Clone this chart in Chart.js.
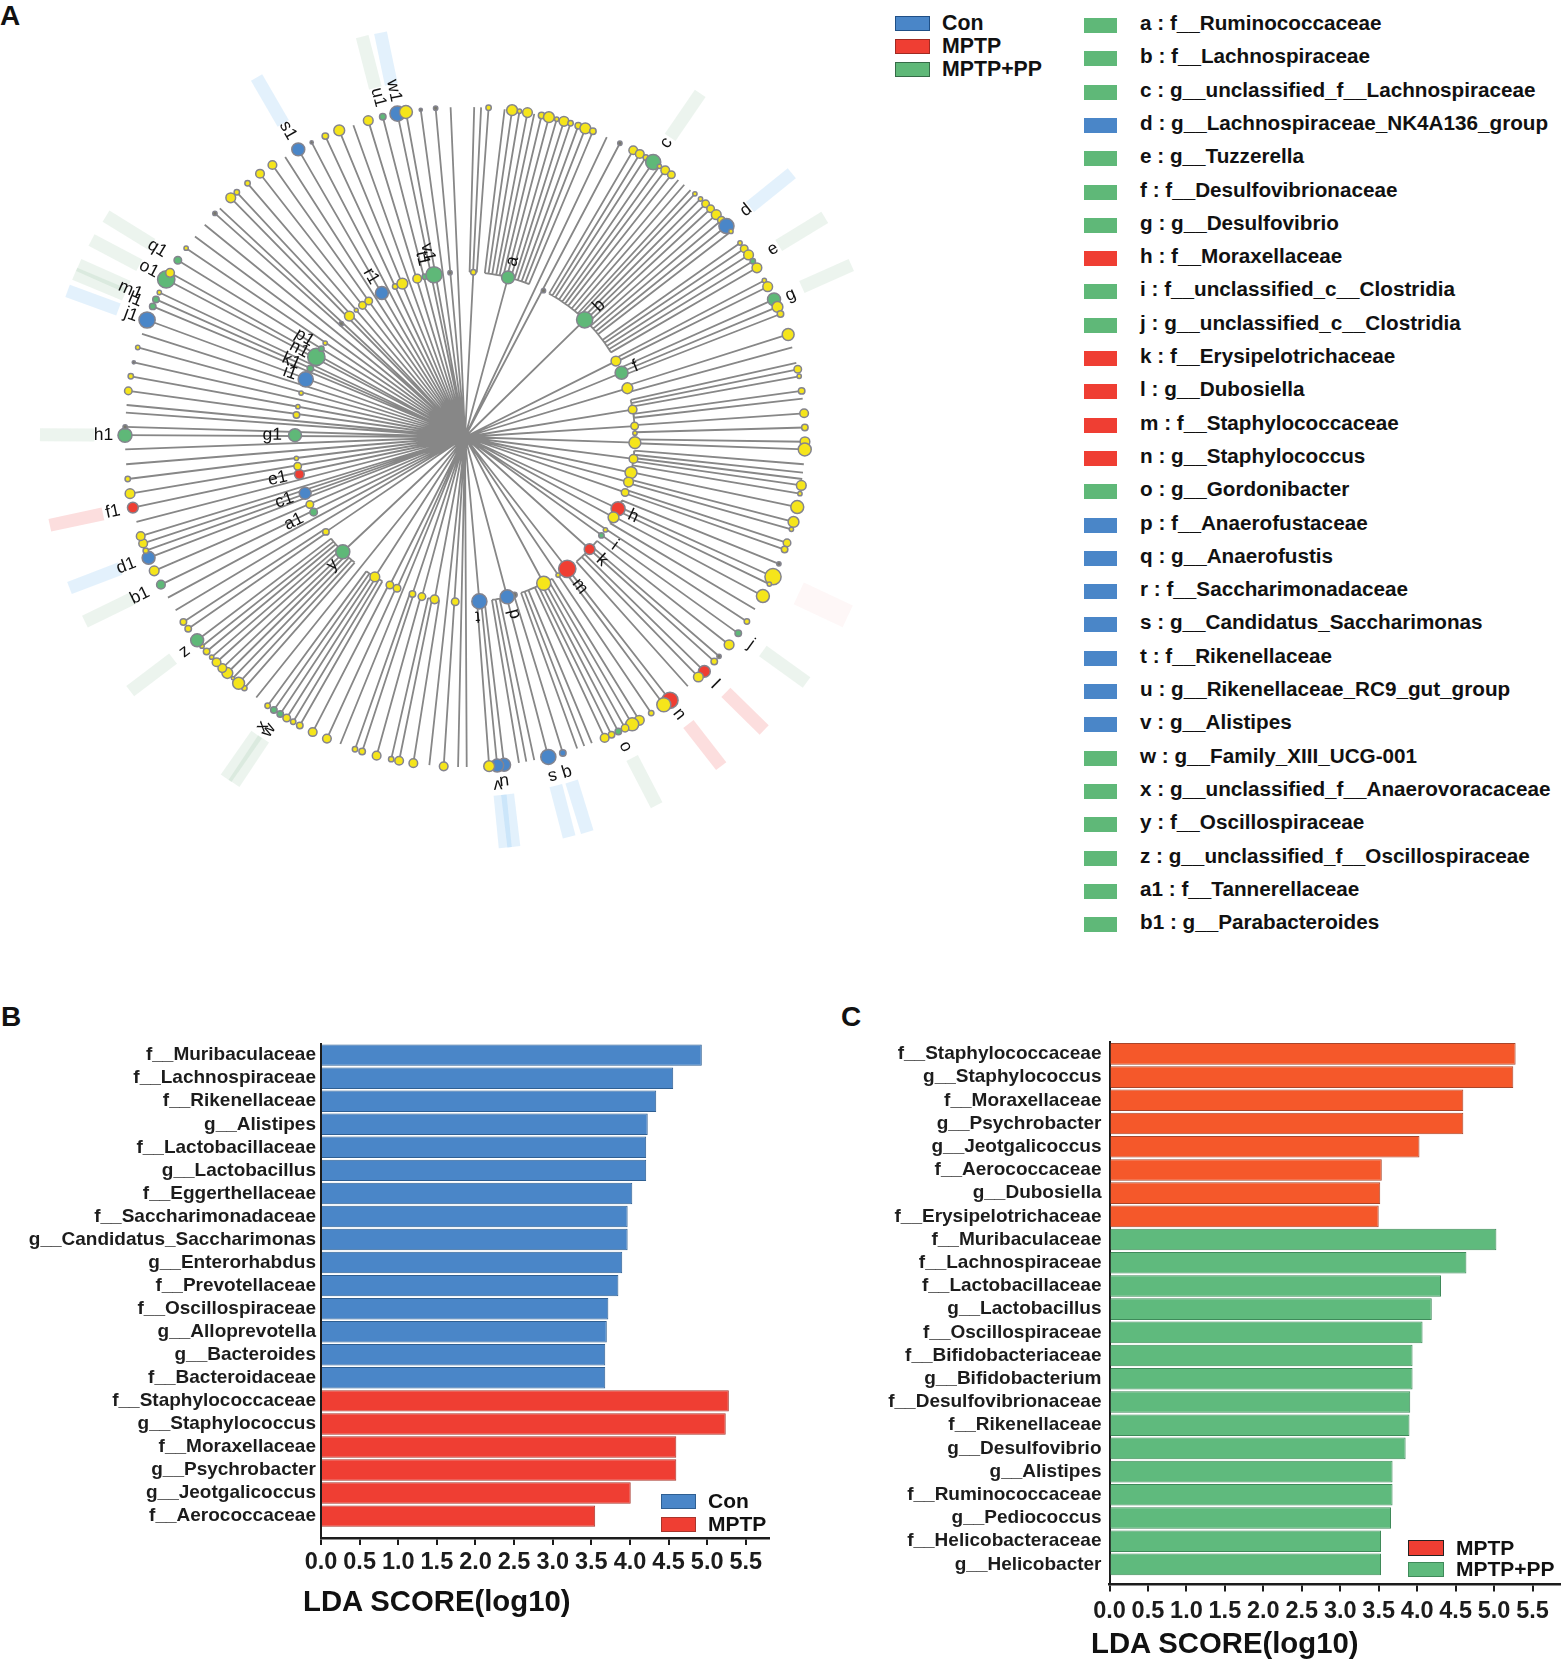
<!DOCTYPE html>
<html>
<head>
<meta charset="utf-8">
<title>LEfSe cladogram and LDA scores</title>
<script src="https://cdn.jsdelivr.net/npm/chart.js@4"></script>
<style>
    html, body { margin: 0; padding: 0; background: #fff; }
    body { position: relative; width: 1561px; height: 1660px; overflow: hidden; font-family: "Liberation Sans", Arial, sans-serif; color: #111; }
    canvas { position: absolute; }
    .panel { position: absolute; font-weight: bold; font-size: 28px; line-height: 28px; }
    .axis-title { position: absolute; font-weight: bold; font-size: 29.3px; line-height: 34px; white-space: nowrap; }
    .swatch { position: absolute; box-sizing: border-box; }
    .key { position: absolute; white-space: nowrap; font-weight: bold; line-height: 24px; }
</style>
</head>
<body>
<div class="panel" style="left:0;top:2px">A</div>
<div class="panel" style="left:1px;top:1003px">B</div>
<div class="panel" style="left:841px;top:1003px">C</div>
<canvas id="cladogram" width="880" height="880" style="left:0;top:0"></canvas>
<canvas id="chartB" width="790" height="630" style="left:0;top:1030px"></canvas>
<canvas id="chartC" width="731" height="630" style="left:830px;top:1030px"></canvas>
<div class="axis-title" style="left:303px;top:1584px">LDA SCORE(log10)</div>
<div class="axis-title" style="left:1091px;top:1626px">LDA SCORE(log10)</div>
<div id="keys"></div>
<script>
// groups: 0 not enriched, 1 Con, 2 MPTP, 3 MPTP+PP, 4 unlabelled small grey
const groupColors = ['#f5e51b', '#4a86c8', '#ef3e33', '#5fb878', '#77776a'];
const beamColors = [null, 'rgba(90,170,235,0.17)', 'rgba(240,90,90,0.2)', 'rgba(95,165,115,0.12)', 'rgba(240,90,90,0.05)'];

// outer ring: bearing in degrees, abundance (0 = bare branch), group
const leafAngles = [
    1.6, 2.8, 4.1, 6.9, 8.2, 9.5, 10.9, 12.1, 13.4, 14.7, 16.1, 17.4, 18.6, 20, 21.3, 22.7, 25.3, 27.8,
    30.4, 31.7, 32.9, 34.4, 35.7, 36.9, 38.2, 39.7, 41, 42.4, 43.4, 44.7, 45.9, 47.1, 48.5, 49.8, 51.1, 52.3,
    54.8, 56, 57.3, 58.6, 59.9, 62.4, 63.6, 66, 67.4, 68.7, 72.4, 74.7, 77.4, 78.5, 79.7, 82.2, 83.5, 86, 88.4,
    90.8, 92.1, 94.6, 96, 97.1, 98.2, 99.6, 101.9, 104.5, 105.8, 108.2, 109.4, 112, 114.4, 115.8, 118.1, 120.7,
    123.2, 125.7, 128.2, 130.8, 132, 134.4, 135.8, 138.2, 142.1, 143.4, 146, 148.4, 149.8, 151.2, 152.5, 153.8,
    155.1, 157.5, 158.9, 160.2, 162.8, 165.4, 167.9, 169.3, 170.6, 173.2, 174.4, 175.8, 179.7, 181.2, 183.7, 186.2,
    189, 191.5, 192.9, 195.5, 198.1, 199.4, 202.1, 204.6, 207.3, 209.8, 211.1, 212.4, 213.7, 215, 216.3, 218.7,
    221.3, 222.6, 223.9, 225.2, 226.4, 227.8, 229, 230.3, 231.5, 232.8, 235.3, 236.7, 239.1, 241.6, 244.1, 246.7,
    249.1, 250.4, 251.7, 253, 255.5, 258, 260.4, 262.9, 265.4, 267.9, 270.3, 271.7, 274.1, 275.4, 277.8, 280.3,
    282.7, 285.3, 287.7, 290.2, 292.7, 294, 295.3, 297.8, 299.1, 301.6, 304.1, 306.6, 309.2, 311.8, 313, 315.6,
    317, 319.4, 322.1, 324.7, 327.3, 329.9, 332.5, 335.1, 337.7, 340.3, 343, 345.6, 348.2, 349.7, 352.3, 354.9, 357.5
];
const leafAbundance = [
    0, 0, 2.5, 0, 5, 2, 4.5, 0, 3, 5, 2, 4.5, 2.5, 3, 5, 3, 0, 2,
    4, 4, 2.5, 7, 2, 4, 3.5, 0, 0, 0, 2, 2, 3.5, 3.5, 4.5, 3.5, 7, 2,
    2, 3.5, 4.5, 2.5, 4.5, 2, 4.5, 6, 5, 3, 5.5, 0, 0, 3.5, 2, 3, 0, 4, 3,
    4.5, 6, 0, 0, 0, 4.5, 2, 6, 5, 2, 3.5, 3, 2, 7.5, 2, 6, 0,
    2.5, 3, 4.5, 2, 3, 5.5, 4.5, 0, 7.5, 6.5, 2.5, 4.5, 6, 3.5, 3, 3,
    4, 0, 0, 0, 3, 7, 0, 0, 0, 6, 6, 5, 0, 0, 4, 0,
    4, 4, 2.5, 4, 3, 2.5, 0, 4, 4, 3, 2.5, 3.5, 3, 3, 2.5, 0,
    2.5, 5.5, 1.5, 5, 4, 4, 2, 3, 2, 6, 3, 3, 0, 0, 4, 4.5,
    6, 2.5, 4, 4, 0, 5, 4.5, 2.5, 0, 0, 6.5, 2, 0, 0, 3.5, 2.5,
    1.5, 2, 0, 7.5, 3, 3, 2, 8, 4, 3.5, 2, 0, 0, 2, 0, 4.5,
    2.5, 2.5, 4, 4, 0, 6, 1.5, 3, 5, 0, 4.5, 3, 7, 6, 1.5, 2, 0
];
const leafGroups = [
    0, 0, 0, 0, 0, 0, 0, 0, 0, 0, 0, 0, 0, 0, 0, 0, 0, 4,
    0, 0, 0, 3, 0, 0, 0, 0, 0, 0, 0, 0, 0, 0, 0, 0, 1, 0,
    0, 0, 0, 3, 0, 0, 0, 3, 0, 0, 0, 0, 0, 0, 0, 0, 0, 0, 0,
    0, 0, 0, 0, 0, 0, 0, 0, 0, 0, 0, 0, 4, 0, 0, 0, 0,
    0, 3, 0, 4, 0, 2, 0, 0, 2, 0, 0, 0, 0, 0, 3, 0,
    0, 0, 0, 0, 1, 1, 0, 0, 0, 1, 1, 0, 0, 0, 0, 0,
    0, 0, 0, 0, 0, 0, 0, 0, 0, 0, 0, 0, 3, 3, 0, 0,
    0, 0, 0, 0, 0, 0, 0, 0, 0, 3, 0, 0, 0, 0, 3, 0,
    1, 0, 0, 0, 0, 2, 0, 0, 0, 0, 3, 4, 0, 0, 0, 0,
    4, 0, 0, 1, 3, 3, 0, 3, 0, 3, 0, 0, 0, 4, 0, 0,
    0, 0, 0, 0, 0, 1, 4, 0, 0, 0, 0, 3, 1, 0, 4, 4, 0
];

// inner ring nodes
const innerAngles = [
    2.9, 15.1, 28.2, 45.6, 63.3, 67.7, 73.3, 80.7, 86.3, 88.7, 91.9, 97.4, 102.1, 105.4, 109.1, 115.1, 118.4, 123.5,
    125.8, 132, 146, 142.2, 151.7, 162.6, 165.2, 175, 183.4, 190.6, 195.1, 198.5, 204.2, 206.9, 212.8, 226.8, 235.7,
    243.6, 246.5, 250.6, 257.3, 260.1, 262.8, 270.6, 277.4, 280.3, 285, 289.9, 293.9, 298.3, 301.6, 303.9, 312.5,
    316.3, 319.4, 322.1, 324.7, 330, 335.1, 337.8, 343.2, 345.9, 349.2, 354.8
];
const innerAbundance = [
    2.5, 6, 2, 7.5, 4.5, 6, 5, 4, 3.5, 2, 5.5, 4, 5.5, 4.5, 3.5, 6.5, 5, 2,
    2.5, 5, 2, 8, 6.5, 2.5, 6.5, 7, 3.5, 4, 3.5, 3, 3.5, 3.5, 4.5, 6.5, 3,
    3.5, 3.5, 5.5, 4.5, 3.5, 2, 6, 3, 2, 2, 7, 3, 8, 2.5, 2, 2,
    4.5, 1.8, 3.5, 3.5, 6, 2.5, 5, 4, 2.5, 7.5, 2
];
const innerGroups = [
    0, 3, 4, 3, 0, 3, 0, 0, 0, 0, 0, 0, 0, 0, 0, 2, 0, 0,
    3, 2, 0, 2, 0, 4, 1, 1, 0, 0, 0, 0, 0, 0, 0, 3, 0,
    3, 0, 1, 2, 0, 0, 3, 0, 0, 0, 1, 3, 3, 3, 0, 4,
    0, 0, 0, 0, 1, 0, 0, 0, 3, 3, 4
];

// sectors whose leaves hang off an arc on the inner ring, fed by one branch from the centre
const fanNodes = [2.9, 15.1, 45.6, 63.3, 67.7, 73.3, 80.7, 86.3, 91.9, 97.4, 102.1, 105.4, 109.1, 115.1, 118.4, 132, 142.2, 151.7, 165.2, 175, 190.6, 195.1, 198.5, 204.2, 206.9, 212.8, 226.8, 235.7];
const fanStarts = [1.6, 6.9, 30.4, 62.4, 66, 72.4, 77.4, 88.4, 90.8, 94.6, 98.2, 104.5, 108.2, 112, 118.1, 128.2, 142.1, 148.4, 162.8, 173.2, 189, 195.5, 198.1, 204.6, 207.3, 209.8, 221.3, 235.3];
const fanEnds = [4.1, 22.7, 59.9, 63.6, 68.7, 74.7, 86, 88.4, 92.1, 97.1, 101.9, 105.8, 109.4, 115.8, 120.7, 138.2, 143.4, 160.2, 170.6, 175.8, 192.9, 195.5, 199.4, 204.6, 207.3, 216.3, 232.8, 236.7];

// pale bands behind the marked clades
const beamAngles = [34.4, 51.1, 58.6, 66, 115.1, 125.7, 134.4, 142.1, 152.5, 162.8, 165.4, 173.2, 174.4, 213.7, 215, 232.8, 244.1, 249.1, 258, 270.3, 290.2, 292.7, 294, 297.8, 301.6, 329.9, 345.6, 348.2];
const beamGroups = [3, 1, 3, 3, 4, 3, 2, 2, 3, 1, 1, 1, 1, 3, 3, 3, 3, 1, 2, 3, 1, 3, 3, 3, 3, 1, 3, 1];

const cladeNames = ['a', 'b', 'c', 'd', 'e', 'f', 'g', 'h', 'i', 'j', 'k', 'l', 'm', 'n', 'o', 'p', 'q', 's', 't', 'u', 'v', 'w', 'x', 'y', 'z', 'a1', 'b1', 'c1', 'd1', 'e1', 'f1', 'g1', 'h1', 'i1', 'j1', 'k1', 'l1', 'm1', 'n1', 'o1', 'p1', 'q1', 'r1', 's1', 't1', 'u1', 'v1', 'w1'];
const cladeAngles = [15.1, 45.6, 34.4, 51.1, 58.6, 67.5, 66.4, 115.2, 125.9, 125.9, 132, 134.7, 142.4, 142.3, 152.6, 164.4, 163.1, 165.5, 176, 173.5, 174.6, 213.8, 215, 226.1, 232.6, 243.7, 244, 250.7, 249.2, 257.5, 258, 270.6, 270.3, 290.1, 290.1, 293.6, 292.6, 293.7, 297.9, 298, 301.8, 301.5, 329.7, 330, 346.6, 345.7, 348.6, 348.4];
const cladeRadii = [0.55, 0.56, 1.07, 1.075, 1.07, 0.545, 1.05, 0.55, 0.55, 1.05, 0.55, 1.05, 0.565, 1.05, 1.05, 0.555, 1.06, 1.06, 0.545, 1.05, 1.06, 1.06, 1.06, 0.55, 1.05, 0.565, 1.07, 0.565, 1.07, 0.565, 1.06, 0.567, 1.063, 0.55, 1.05, 0.56, 1.055, 1.08, 0.555, 1.06, 0.56, 1.07, 0.56, 1.065, 0.555, 1.06, 0.57, 1.07];
const flippedNames = ['q', 's', 't', 'u', 'v'];

const taxaLetters = ['a', 'b', 'c', 'd', 'e', 'f', 'g', 'h', 'i', 'j', 'k', 'l', 'm', 'n', 'o', 'p', 'q', 'r', 's', 't', 'u', 'v', 'w', 'x', 'y', 'z', 'a1', 'b1'];
const taxaNames = ['f__Ruminococcaceae', 'f__Lachnospiraceae', 'g__unclassified_f__Lachnospiraceae', 'g__Lachnospiraceae_NK4A136_group', 'g__Tuzzerella', 'f__Desulfovibrionaceae', 'g__Desulfovibrio', 'f__Moraxellaceae', 'f__unclassified_c__Clostridia', 'g__unclassified_c__Clostridia', 'f__Erysipelotrichaceae', 'g__Dubosiella', 'f__Staphylococcaceae', 'g__Staphylococcus', 'g__Gordonibacter', 'f__Anaerofustaceae', 'g__Anaerofustis', 'f__Saccharimonadaceae', 'g__Candidatus_Saccharimonas', 'f__Rikenellaceae', 'g__Rikenellaceae_RC9_gut_group', 'g__Alistipes', 'g__Family_XIII_UCG-001', 'g__unclassified_f__Anaerovoracaceae', 'f__Oscillospiraceae', 'g__unclassified_f__Oscillospiraceae', 'f__Tannerellaceae', 'g__Parabacteroides'];
const taxaGroups = [3, 3, 3, 1, 3, 3, 3, 2, 3, 3, 2, 2, 2, 2, 3, 1, 1, 1, 1, 1, 1, 1, 3, 3, 3, 3, 3, 3];

// panel B
const conNames = ['f__Muribaculaceae', 'f__Lachnospiraceae', 'f__Rikenellaceae', 'g__Alistipes', 'f__Lactobacillaceae', 'g__Lactobacillus', 'f__Eggerthellaceae', 'f__Saccharimonadaceae', 'g__Candidatus_Saccharimonas', 'g__Enterorhabdus', 'f__Prevotellaceae', 'f__Oscillospiraceae', 'g__Alloprevotella', 'g__Bacteroides', 'f__Bacteroidaceae'];
const conScores = [4.93, 4.56, 4.34, 4.23, 4.21, 4.21, 4.03, 3.97, 3.97, 3.90, 3.85, 3.72, 3.70, 3.68, 3.68];
const mptpNamesB = ['f__Staphylococcaceae', 'g__Staphylococcus', 'f__Moraxellaceae', 'g__Psychrobacter', 'g__Jeotgalicoccus', 'f__Aerococcaceae'];
const mptpScoresB = [5.28, 5.24, 4.60, 4.60, 4.01, 3.55];

// panel C
const mptpNamesC = ['f__Staphylococcaceae', 'g__Staphylococcus', 'f__Moraxellaceae', 'g__Psychrobacter', 'g__Jeotgalicoccus', 'f__Aerococcaceae', 'g__Dubosiella', 'f__Erysipelotrichaceae'];
const mptpScoresC = [5.28, 5.25, 4.60, 4.60, 4.03, 3.54, 3.52, 3.50];
const ppNames = ['f__Muribaculaceae', 'f__Lachnospiraceae', 'f__Lactobacillaceae', 'g__Lactobacillus', 'f__Oscillospiraceae', 'f__Bifidobacteriaceae', 'g__Bifidobacterium', 'f__Desulfovibrionaceae', 'f__Rikenellaceae', 'g__Desulfovibrio', 'g__Alistipes', 'f__Ruminococcaceae', 'g__Pediococcus', 'f__Helicobacteraceae', 'g__Helicobacter'];
const ppScores = [5.03, 4.64, 4.31, 4.19, 4.07, 3.94, 3.94, 3.91, 3.90, 3.85, 3.68, 3.68, 3.66, 3.53, 3.53];

const xTicks = [0, 0.5, 1, 1.5, 2, 2.5, 3, 3.5, 4, 4.5, 5, 5.5];

Chart.defaults.font.family = '"Liberation Sans", Arial, sans-serif';
Chart.defaults.animation = false;
Chart.defaults.responsive = false;

const LEAF_DEPTH = 1, FAMILY_DEPTH = 0.5;
// the ring is a little wider than tall, so the bearing is kept true on screen
const RING_ASPECT = 340 / 330;
const polar = (angle, depth) => {
    const t = angle * Math.PI / 180;
    const a = Math.sin(t), b = Math.cos(t) * RING_ASPECT;
    const n = Math.hypot(a, b);
    return { x: depth * a / n, y: depth * b / n };
};
const GAP = { x: NaN, y: NaN };

// Branches
const branches = [];
const inFan = a => fanStarts.some((s, i) => a >= s && a <= fanEnds[i]);
leafAngles.forEach(a => {
    branches.push(polar(a, inFan(a) ? FAMILY_DEPTH : 0), polar(a, LEAF_DEPTH), GAP);
});
fanNodes.forEach((node, i) => {
    branches.push(polar(node, 0), polar(node, FAMILY_DEPTH), GAP);
    const stops = leafAngles.filter(a => a >= fanStarts[i] && a <= fanEnds[i]).concat(node).sort((a, b) => a - b);
    stops.forEach(a => branches.push(polar(a, FAMILY_DEPTH)));
    branches.push(GAP);
});
// inner nodes without a fan still sit on a branch reaching them
innerAngles.filter(a => !fanNodes.includes(a)).forEach(a => {
    if (!leafAngles.some(l => Math.abs(l - a) < 1.3)) branches.push(polar(0, 0), polar(a, FAMILY_DEPTH), GAP);
});

const nodes = (angles, abundance, groups, depth) => angles
    .map((a, i) => ({ ...polar(a, depth), size: abundance[i], group: groups[i] }))
    .filter(p => p.size > 0);

const nodeDataset = (data) => ({
    data,
    order: 1,
    showLine: false,
    pointRadius: c => c.raw.size * 1.08,
    pointHoverRadius: c => c.raw.size * 1.08,
    pointBackgroundColor: c => groupColors[c.raw.group],
    pointBorderColor: '#84848e',
    pointBorderWidth: 1.5
});

const cladeLabelPlugin = {
    id: 'cladeLabels',
    afterDatasetsDraw(chart) {
        const { ctx, scales } = chart;
        ctx.save();
        ctx.fillStyle = '#111';
        ctx.font = '17.5px "Liberation Sans", Arial, sans-serif';
        ctx.textAlign = 'center';
        ctx.textBaseline = 'middle';
        cladeNames.forEach((name, i) => {
            const a = cladeAngles[i];
            const p = polar(a, cladeRadii[i]);
            const turn = flippedNames.includes(name) ? a : (a < 180 ? a - 90 : a - 270);
            ctx.save();
            ctx.translate(scales.x.getPixelForValue(p.x), scales.y.getPixelForValue(p.y));
            ctx.rotate(turn * Math.PI / 180);
            ctx.fillText(name, 0, 0);
            ctx.restore();
        });
        ctx.restore();
    }
};

new Chart(document.getElementById('cladogram'), {
    type: 'scatter',
    plugins: [cladeLabelPlugin],
    data: {
        datasets: [
            nodeDataset(nodes(leafAngles, leafAbundance, leafGroups, LEAF_DEPTH)),
            nodeDataset(nodes(innerAngles, innerAbundance, innerGroups, FAMILY_DEPTH)),
            {
                data: branches,
                order: 2,
                showLine: true,
                spanGaps: false,
                pointRadius: 0,
                borderColor: '#878787',
                borderWidth: 1.8
            },
            ...beamAngles.map((a, i) => ({
                data: [polar(a, 1.09), polar(a, 1.25)],
                order: 3,
                showLine: true,
                pointRadius: 0,
                borderColor: beamColors[beamGroups[i]],
                borderWidth: beamGroups[i] === 4 ? 24 : 13,
                borderCapStyle: 'butt'
            }))
        ]
    },
    options: {
        events: [],
        layout: { padding: 0, autoPadding: false },
        plugins: { legend: { display: false }, tooltip: { enabled: false } },
        scales: {
            x: { display: false, bounds: 'data', min: -1.3676, max: 1.2206 },
            y: { display: false, bounds: 'data', min: -1.3424, max: 1.3242 }
        }
    }
});

// Bars
function lda(canvasId, first, second, view) {
    const names = first.names.concat(second.names);
    const series = (set, start) => ({
        label: set.label,
        data: set.scores.map((v, i) => ({ x: v, y: i + start })),
        grouped: false,
        backgroundColor: set.color,
        borderColor: set.edge,
        borderWidth: 1,
        barPercentage: 0.93,
        categoryPercentage: 1
    });
    new Chart(document.getElementById(canvasId), {
        type: 'bar',
        data: { labels: names, datasets: [series(first, 0), series(second, first.names.length)] },
        options: {
            indexAxis: 'y',
            events: [],
            layout: { padding: { top: view.top, right: view.right }, autoPadding: false },
            plugins: { legend: { display: false }, tooltip: { enabled: false } },
            scales: {
                x: {
                    type: 'linear',
                    bounds: 'data',
                    min: 0,
                    max: view.xMax,
                    afterBuildTicks: s => { s.ticks = xTicks.map(value => ({ value })); },
                    afterFit: s => { s.height = view.axisHeight; s.paddingLeft = 0; s.paddingRight = 0; },
                    border: { color: '#1c1c1c', width: 2.5 },
                    grid: { drawOnChartArea: false, color: '#1c1c1c', lineWidth: 2, tickLength: 7 },
                    ticks: {
                        autoSkip: false,
                        maxRotation: 0,
                        padding: view.tickPad,
                        color: '#1c1c1c',
                        font: { size: 23.5, weight: 'bold' },
                        callback: v => v.toFixed(1)
                    }
                },
                y: {
                    type: 'linear',
                    bounds: 'data',
                    offset: false,
                    reverse: true,
                    min: -0.5,
                    max: view.yMax,
                    afterBuildTicks: s => { s.ticks = names.map((_, value) => ({ value })); },
                    afterFit: s => { s.width = view.axisWidth; s.paddingTop = 0; s.paddingBottom = 0; },
                    border: { color: '#1c1c1c', width: 2 },
                    grid: { display: false, drawTicks: false },
                    ticks: {
                        autoSkip: false,
                        padding: view.labelPad,
                        color: '#1c1c1c',
                        font: { size: 19, weight: 'bold' },
                        callback: v => names[v]
                    }
                }
            }
        }
    });
}

lda('chartB',
    { label: 'Con', names: conNames, scores: conScores, color: '#4a86c8', edge: '#2f5f92' },
    { label: 'MPTP', names: mptpNamesB, scores: mptpScoresB, color: '#ef3e33', edge: '#a8352c' },
    { top: 13.6, right: 21, xMax: 5.8, yMax: 20.95, axisHeight: 122, axisWidth: 321, tickPad: 3, labelPad: 5 });

lda('chartC',
    { label: 'MPTP', names: mptpNamesC, scores: mptpScoresC, color: '#f5582a', edge: '#a8452a' },
    { label: 'MPTP+PP', names: ppNames, scores: ppScores, color: '#5fba7d', edge: '#3f8a5a' },
    { top: 12.3, right: 0, xMax: 5.87, yMax: 22.87, axisHeight: 75.4, axisWidth: 279.5, tickPad: 6, labelPad: 8 });

// Legends
const keys = document.getElementById('keys');
function addKey(text, color, edge, box, textX, size, lift) {
    const s = document.createElement('div');
    s.className = 'swatch';
    s.style.cssText = `left:${box[0]}px;top:${box[1]}px;width:${box[2]}px;height:${box[3]}px;background:${color};border:1px solid ${edge}`;
    keys.appendChild(s);
    const t = document.createElement('div');
    t.className = 'key';
    t.textContent = text;
    t.style.cssText = `left:${textX}px;top:${box[1] + box[3] / 2 - 12.5 - (lift || 0)}px;font-size:${size}px`;
    keys.appendChild(t);
}
const legendA = ['Con', 'MPTP', 'MPTP+PP'];
const legendAColors = ['#4a86c8', '#ef3e33', '#5fb878'];
const legendAEdges = ['#1f4f86', '#a02a22', '#356b47'];
legendA.forEach((name, i) => addKey(name, legendAColors[i], legendAEdges[i], [895, 16 + i * 23, 35, 15], 942, 21.3));
taxaNames.forEach((name, i) => {
    const c = groupColors[taxaGroups[i]];
    addKey(taxaLetters[i] + ' : ' + name, c, c, [1084, 18 + i * 33.3, 33, 15], 1140, 20.7, 2);
});
addKey('Con', '#4a86c8', '#2f5f92', [661, 1494, 35, 15], 708, 21);
addKey('MPTP', '#ef3e33', '#a8352c', [661, 1517, 35, 15], 708, 21);
addKey('MPTP', '#ef3e33', '#222', [1408, 1540, 36, 16], 1456, 21);
addKey('MPTP+PP', '#5fba7d', '#3f8a5a', [1408, 1562, 36, 15], 1456, 21);
</script>
</body>
</html>
